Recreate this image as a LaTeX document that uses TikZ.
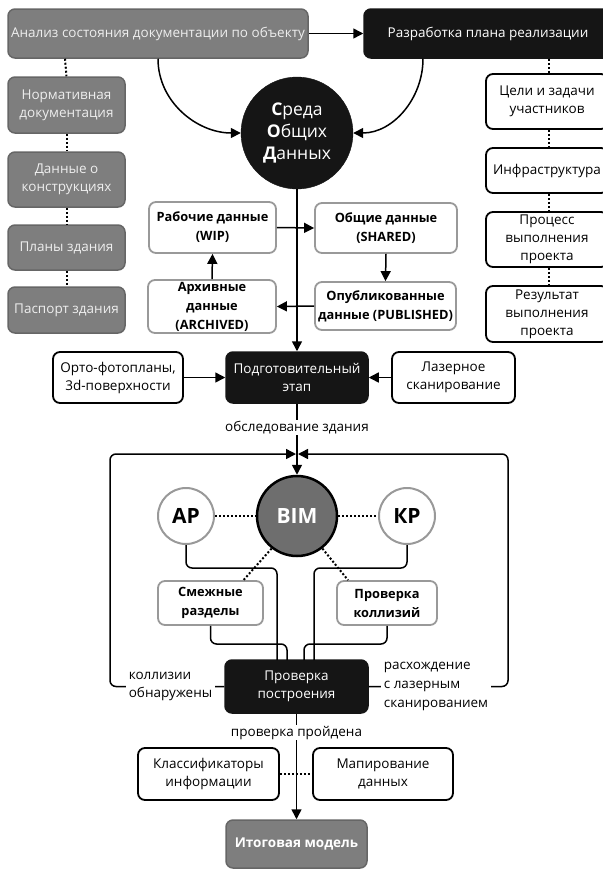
\documentclass[tikz,border=0pt]{standalone}
\usepackage{fontspec}
\setmainfont{Open Sans}
\usetikzlibrary{arrows.meta}
\definecolor{boxgray}{HTML}{7E7E7E}
\definecolor{boxgrayd}{HTML}{666666}
\definecolor{lighttxt}{HTML}{EEEEEE}
\definecolor{nearblack}{HTML}{151515}
\definecolor{bordergray}{HTML}{999999}
\definecolor{bimgray}{HTML}{6E6E6E}
\begin{document}
\begin{tikzpicture}[x=1pt,y=-1pt,
  base/.style={rounded corners=7pt, align=center, inner sep=0pt, font=\fontsize{13.5}{18}\selectfont},
  graybox/.style={base, fill=boxgray, draw=boxgrayd, line width=1.5pt, text=lighttxt},
  blackbox/.style={base, fill=nearblack, draw=nearblack, line width=1.5pt, text=white},
  whitebox/.style={base, fill=white, draw=black, line width=1.8pt},
  databox/.style={base, fill=white, draw=bordergray, line width=1.8pt, font=\fontsize{12.8}{19}\selectfont\bfseries},
  sz/.style 2 args={minimum width=#1pt, minimum height=#2pt},
  conn/.style={line width=1.5pt},
  arr/.style={conn, -{Triangle[length=10pt,width=10pt]}},
  dots/.style={line width=2pt, dash pattern=on 2pt off 2pt},
  lbl/.style={fill=white, inner xsep=3pt, inner ysep=1pt, font=\fontsize{13.5}{18}\selectfont},
  loop/.style={conn, rounded corners=6pt}
]
\useasboundingbox (0,0) rectangle (603,871);

% top row
\node[graybox, sz={300}{49}] (anal) at (158,33.5) {Анализ состояния документации по объекту};
\node[blackbox, sz={248}{49}] (razr) at (488,33.5) {Разработка плана реализации};

% left column
\node[graybox, sz={117}{56}] (norm) at (66.5,105) {Нормативная\\документация};
\node[graybox, sz={117}{55}] (konstr) at (66.5,179.5) {Данные о\\конструкциях};
\node[graybox, sz={117}{45}] (plany) at (66.5,247.5) {Планы здания};
\node[graybox, sz={117}{46}] (pasp) at (66.5,310) {Паспорт здания};

% right column
\node[whitebox, sz={122}{55}] (celi) at (547,101.5) {Цели и задачи\\участников};
\node[whitebox, sz={122}{45}] (infra) at (547,170.5) {Инфраструктура};
\node[whitebox, sz={122}{55}] (proc) at (547,239.5) {Процесс\\выполнения\\проекта};
\node[whitebox, sz={122}{56}] (res) at (547,314) {Результат\\выполнения\\проекта};

% CDE circle
\node[circle, fill=nearblack, draw=nearblack, minimum size=112pt, inner sep=0pt, align=center, text=white,
      font=\fontsize{17.5}{22}\selectfont] (sod) at (297,133) {{\bfseries С}реда\\{\bfseries О}бщих\\{\bfseries Д}анных};

% data boxes
\node[databox, sz={127}{51}] (wip) at (212.5,227.5) {Рабочие данные\\(WIP)};
\node[databox, sz={142}{50}] (shared) at (386,228) {Общие данные\\(SHARED)};
\node[databox, sz={128}{53}] (arch) at (212,306.5) {Архивные\\данные\\(ARCHIVED)};
\node[databox, sz={141}{48}] (pub) at (385.5,306) {Опубликованные\\данные (PUBLISHED)};

% preparation row
\node[whitebox, sz={130}{51}] (orto) at (118,377.5) {Орто-фотопланы,\\3d-поверхности};
\node[blackbox, sz={142}{51}] (prep) at (297,377.5) {Подготовительный\\этап};
\node[whitebox, sz={123}{51}] (laser) at (453.5,377.5) {Лазерное\\сканирование};

% BIM area
\coordinate (junc) at (297,454);
\node[circle, fill=bimgray, draw=black, line width=2.5pt, minimum size=80pt, inner sep=0pt, text=white,
      font=\fontsize{21}{24}\selectfont\bfseries] (bim) at (297,516) {BIM};
\node[circle, fill=white, draw=bordergray, line width=2pt, minimum size=56pt, inner sep=0pt,
      font=\fontsize{21}{24}\selectfont\bfseries] (ap) at (186,516) {АР};
\node[circle, fill=white, draw=bordergray, line width=2pt, minimum size=56pt, inner sep=0pt,
      font=\fontsize{21}{24}\selectfont\bfseries] (kp) at (407,516) {КР};
\node[databox, sz={105}{44}] (smezh) at (210.5,603) {Смежные\\разделы};
\node[databox, sz={100}{44}] (koll) at (387,603) {Проверка\\коллизий};
\node[blackbox, sz={143}{53}] (check) at (296.5,686.5) {Проверка\\построения};

% bottom
\node[whitebox, sz={141}{52}] (klass) at (208.5,774) {Классификаторы\\информации};
\node[whitebox, sz={140}{52}] (mapir) at (383,774) {Мапирование\\данных};
\node[graybox, sz={141}{48}, text=white, font=\fontsize{13.5}{18}\selectfont\bfseries] (itog) at (296.5,844) {Итоговая модель};

% ---- connectors ----
\draw[arr] (anal.east) -- (razr.west);
\draw[arr] (anal.south) to[out=-90,in=180] (sod.west);
\draw[arr] ([xshift=-65pt]razr.south) to[out=-90,in=0] (sod.east);

\draw[dots] ([xshift=-1.5pt]anal.south west -| norm.north) -- (norm.north);
\draw[dots] (norm.south) -- (konstr.north);
\draw[dots] (konstr.south) -- (plany.north);
\draw[dots] (plany.south) -- (pasp.north);

\draw[dots] ([xshift=2pt]celi.north |- razr.south) -- ([xshift=2pt]celi.north);
\draw[dots] ([xshift=2pt]celi.south) -- ([xshift=2pt]infra.north);
\draw[dots] ([xshift=2pt]infra.south) -- ([xshift=2pt]proc.north);
\draw[dots] ([xshift=2pt]proc.south) -- ([xshift=2pt]res.north);

\draw[arr] (sod.south) -- (prep.north);
\draw[arr] (wip.east) -- (shared.west);
\draw[arr] (shared.south) -- (pub.north);
\draw[arr] (pub.west) -- (arch.east);
\draw[arr] (arch.north) -- (wip.south);

\draw[arr] (orto.east) -- (prep.west);
\draw[arr] (laser.west) -- (prep.east);
\draw[arr] (prep.south) -- node[lbl, pos=0.33] {обследование здания} (bim.north);

% feedback loops
\draw[loop, -{Triangle[length=10pt,width=10pt]}] (check.west) -- (110,686.5) -- (110,454) -- ([xshift=-1pt]junc);
\draw[loop, -{Triangle[length=10pt,width=10pt]}] (check.east) -- (508,686.5) -- (508,454) -- ([xshift=1pt]junc);
\node[lbl, align=left] (lk) at (170.5,686) {коллизии\\обнаружены};
\node[lbl, align=left, font=\fontsize{13.5}{19}\selectfont] (lr) at (436,686) {расхождение\\с лазерным\\сканированием};

% BIM relations
\draw[dots] (ap.east) -- (bim.west);
\draw[dots] (bim.east) -- (kp.west);
\draw[dots] (bim.232) -- ([xshift=33pt]smezh.north);
\draw[dots] (bim.308) -- ([xshift=-39pt]koll.north);

\draw[loop] (ap.south) -- (186,568) -- (277,568) -- (277,660);
\draw[loop] (smezh.south) -- (210.5,644) -- (287,644) -- (287,660);
\draw[loop] (kp.south) -- (407,568) -- (314,568) -- (314,660);
\draw[loop] (koll.south) -- (387,644) -- (304,644) -- (304,660);

\draw[arr] (check.south) -- node[lbl, pos=0.18] {проверка пройдена} (itog.north);
\draw[dots] (klass.east) -- (mapir.west);
\end{tikzpicture}
\end{document}
